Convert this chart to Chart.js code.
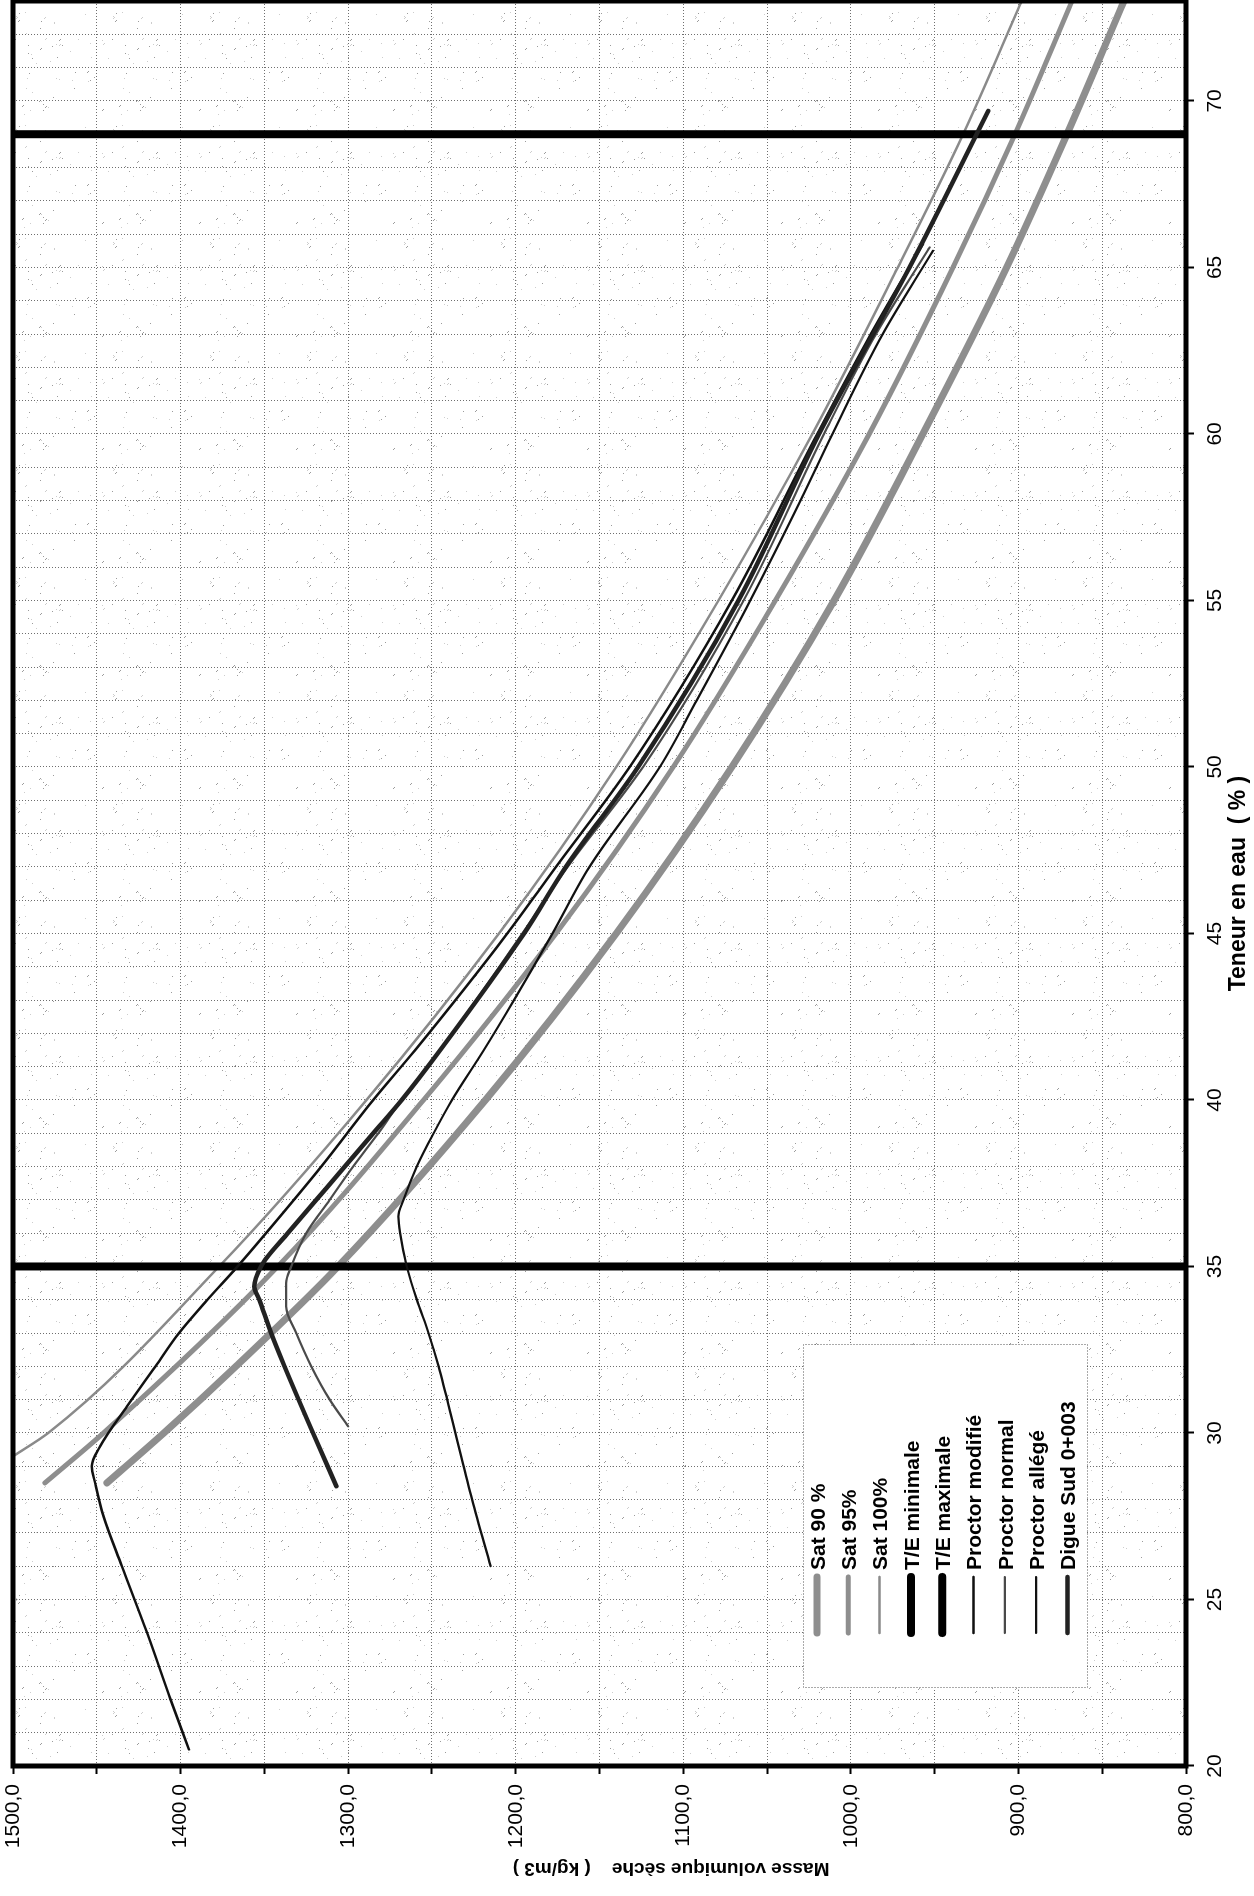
<!DOCTYPE html>
<html>
<head>
<meta charset="utf-8">
<title>Masse volumique sèche / Teneur en eau</title>
<script src="https://cdn.jsdelivr.net/npm/chart.js@4.4.1/dist/chart.umd.min.js"></script>
<style>
  html, body { margin: 0; padding: 0; background: #fff; }
  #page { position: relative; width: 1254px; height: 1896px; overflow: hidden; background: #fff; }
  /* the chart is laid out landscape, then turned a quarter turn to fit the portrait sheet */
  #sheet { position: absolute; left: 0; top: 0; width: 1896px; height: 1254px;
           transform-origin: 0 0; transform: translate(0, 1896px) rotate(-90deg); }
  canvas { display: block; }
</style>
</head>
<body>
<div id="page">
  <div id="sheet"><canvas id="chart" width="1896" height="1254" style="width:1896px;height:1254px"></canvas></div>
</div>
<script>
// ---- series names (legend order) ----
const seriesNames = ['Sat 90 %', 'Sat 95%', 'Sat 100%', 'T/E minimale', 'T/E maximale',
                     'Proctor modifié', 'Proctor normal', 'Proctor allégé', 'Digue Sud 0+003'];

// ---- saturation curves: water content (%) / dry density (kg/m3) ----
const sat90W   = [28.5, 30, 32, 35, 40, 45, 50, 55, 60, 65, 69, 73];
const sat90Rho = [1444, 1410, 1367, 1306, 1218, 1140, 1071, 1010, 957, 907, 871, 837];

const sat95W   = [28.5, 30, 35, 40, 45, 50, 55, 60, 65, 69, 73];
const sat95Rho = [1481, 1446, 1342, 1255, 1176, 1106, 1045, 989, 939, 902, 868];

const sat100W   = [29.3, 30, 35, 40, 45, 50, 55, 60, 65, 69, 73];
const sat100Rho = [1500, 1479, 1377, 1289, 1210, 1140, 1079, 1023, 972, 933, 898];

// ---- water content limits (T/E) ----
const teMinW   = [35, 35];
const teMinRho = [800, 1500];
const teMaxW   = [69, 69];
const teMaxRho = [800, 1500];

// ---- compaction curves ----
const proctorModW   = [20.5, 22, 24, 26, 27.5, 28.5, 29, 29.6, 30.8, 32, 33, 34, 35, 36, 38, 40, 41.5, 45, 47, 50, 55, 60, 63, 65.7];
const proctorModRho = [1395, 1406, 1420, 1435, 1446, 1451, 1453, 1448, 1432, 1415, 1401, 1384, 1366, 1349, 1316, 1285, 1260, 1205, 1176, 1132, 1071, 1020, 988, 957];

const proctorNorW   = [30.2, 31, 32, 33, 33.8, 34.5, 35, 36, 37, 38, 39, 40, 41.5, 45, 47, 50, 55, 60, 63, 65.6];
const proctorNorRho = [1300, 1311, 1322, 1331, 1337, 1337, 1334, 1325, 1311, 1297, 1282, 1268, 1245, 1196, 1169, 1124, 1064, 1016, 985, 953];

const proctorAllW   = [26, 28, 30, 32, 33, 34, 35, 36, 36.5, 37, 38, 39, 40, 41.5, 43, 45, 47, 50, 52, 55, 58, 60, 63, 65.5];
const proctorAllRho = [1215, 1226, 1236, 1246, 1252, 1259, 1265, 1269, 1270, 1267, 1259, 1249, 1238, 1219, 1201, 1178, 1156, 1114, 1092, 1060, 1030, 1011, 981, 951];

const digueW   = [28.4, 30, 32, 33, 34, 34.4, 35, 35.3, 36, 37, 38, 39, 40, 41.5, 45, 47, 50, 55, 60, 65, 69.7];
const digueRho = [1307, 1321, 1338, 1346, 1353, 1356, 1352, 1348, 1336, 1319, 1302, 1285, 1268, 1245, 1195, 1170, 1127, 1067, 1019, 965, 918];

// ---- axis ranges and tick steps ----
const waterMin = 20, waterMax = 73, waterGridStep = 1, waterLabelStep = 5;
const rhoMin = 800, rhoMax = 1500, rhoGridStep = 50, rhoLabelStep = 100;

const FONT = "'Liberation Sans', Arial, Helvetica, sans-serif";

function points(ws, rs) { return ws.map((w, i) => ({ x: w, y: rs[i] })); }

// line styles, one per series
const styles = [
  { color: '#8e8e8e', width: 7 },
  { color: '#8e8e8e', width: 5 },
  { color: '#8a8a8a', width: 2.5 },
  { color: '#000000', width: 8 },
  { color: '#000000', width: 8 },
  { color: '#111111', width: 2.5 },
  { color: '#4a4a4a', width: 2.2 },
  { color: '#111111', width: 2.2 },
  { color: '#222222', width: 4.5 }
];

const seriesData = [
  points(sat90W, sat90Rho),
  points(sat95W, sat95Rho),
  points(sat100W, sat100Rho),
  points(teMinW, teMinRho),
  points(teMaxW, teMaxRho),
  points(proctorModW, proctorModRho),
  points(proctorNorW, proctorNorRho),
  points(proctorAllW, proctorAllRho),
  points(digueW, digueRho)
];

const datasets = seriesNames.map((name, i) => ({
  label: name,
  data: seriesData[i],
  borderColor: styles[i].color,
  backgroundColor: styles[i].color,
  borderWidth: styles[i].width,
  borderCapStyle: (i === 3 || i === 4) ? 'butt' : 'round',
  borderJoinStyle: 'round',
  pointRadius: 0,
  pointHoverRadius: 0,
  fill: false,
  cubicInterpolationMode: 'monotone',
  order: seriesNames.length - i
}));

// light stippled fill for the plotting area
function makeStipple() {
  const c = document.createElement('canvas');
  c.width = 113; c.height = 97;
  const g = c.getContext('2d');
  let s = 90731;
  const next = () => (s = (s * 1103515245 + 12345) & 0x7fffffff) / 0x7fffffff;
  for (let i = 0; i < 58; i++) {
    const x = Math.floor(next() * 113), y = Math.floor(next() * 97);
    g.fillStyle = next() < 0.35 ? '#9c9c9c' : '#cdcdcd';
    g.fillRect(x, y, 1, 1);
    if (next() < 0.3) g.fillRect(x + 1, y + 1, 1, 1);
  }
  return c;
}

const plotBackground = {
  id: 'plotBackground',
  beforeDraw(chart) {
    const { ctx, chartArea: a } = chart;
    ctx.save();
    ctx.fillStyle = '#ffffff';
    ctx.fillRect(a.left, a.top, a.right - a.left, a.bottom - a.top);
    ctx.fillStyle = ctx.createPattern(makeStipple(), 'repeat');
    ctx.fillRect(a.left, a.top, a.right - a.left, a.bottom - a.top);
    ctx.restore();
  }
};

// heavy frame round the plotting area
const plotFrame = {
  id: 'plotFrame',
  afterDatasetsDraw(chart) {
    const { ctx, chartArea: a } = chart;
    ctx.save();
    ctx.strokeStyle = '#000';
    ctx.lineWidth = 5;
    ctx.strokeRect(a.left, a.top, a.right - a.left, a.bottom - a.top);
    ctx.restore();
  }
};

// boxed legend inside the plotting area
const boxedLegend = {
  id: 'boxedLegend',
  afterDraw(chart) {
    const { ctx } = chart;
    const box = { left: 208, top: 803, right: 551, bottom: 1087 };
    const rowTop = 817, rowStep = 31.3;
    ctx.save();
    ctx.fillStyle = '#ffffff';
    ctx.fillRect(box.left, box.top, box.right - box.left, box.bottom - box.top);
    ctx.strokeStyle = '#555';
    ctx.lineWidth = 1;
    ctx.setLineDash([1, 2]);
    ctx.strokeRect(box.left + 0.5, box.top + 0.5, box.right - box.left, box.bottom - box.top);
    ctx.setLineDash([]);
    chart.data.datasets.forEach((ds, i) => {
      const y = rowTop + i * rowStep;
      ctx.strokeStyle = ds.borderColor;
      ctx.lineWidth = ds.borderWidth;
      ctx.lineCap = 'round';
      ctx.beginPath();
      ctx.moveTo(263, y);
      ctx.lineTo(319, y);
      ctx.stroke();
      ctx.fillStyle = '#000';
      ctx.font = 'bold 21px ' + FONT;
      ctx.textAlign = 'left';
      ctx.textBaseline = 'middle';
      ctx.fillText(ds.label, 326, y + 2);
    });
    ctx.restore();
  }
};

// density axis title
const densityTitle = {
  id: 'densityTitle',
  afterDraw(chart) {
    const { ctx } = chart;
    ctx.save();
    ctx.translate(28, 671);
    ctx.rotate(-Math.PI / 2);
    ctx.fillStyle = '#000';
    ctx.font = 'bold 19px ' + FONT;
    ctx.textAlign = 'center';
    ctx.textBaseline = 'middle';
    ctx.fillText('Masse volumique sèche    ( kg/m3 )', 0, 0);
    ctx.restore();
  }
};

new Chart(document.getElementById('chart'), {
  type: 'line',
  data: { datasets },
  plugins: [plotBackground, plotFrame, boxedLegend, densityTitle],
  options: {
    responsive: false,
    animation: false,
    devicePixelRatio: 1,
    layout: { padding: { top: 13, right: 1, left: 0, bottom: 0 } },
    plugins: { legend: { display: false }, tooltip: { enabled: false }, title: { display: false } },
    scales: {
      x: {
        type: 'linear',
        position: 'bottom',
        min: waterMin,
        max: waterMax,
        afterFit: s => { s.height = 68; s.paddingLeft = 0; s.paddingRight = 0; },
        ticks: {
          stepSize: waterGridStep,
          autoSkip: false,
          maxRotation: 0,
          padding: 9,
          color: '#000',
          font: { family: FONT, size: 21 },
          callback: v => (v % waterLabelStep === 0 ? String(v) : '')
        },
        grid: {
          color: '#6e6e6e',
          lineWidth: 1,
          tickLength: 8,
          tickWidth: 2,
          tickColor: c => (c.tick && c.tick.value % waterLabelStep === 0 ? '#000' : 'rgba(0,0,0,0)')
        },
        border: { display: false, dash: [1, 2] },
        title: {
          display: true,
          text: 'Teneur en eau  ( % )',
          color: '#000',
          font: { family: FONT, size: 23, weight: 'bold' },
          padding: { top: 0, bottom: 2 }
        }
      },
      y: {
        type: 'linear',
        position: 'left',
        min: rhoMin,
        max: rhoMax,
        afterFit: s => { s.width = 130; s.paddingTop = 0; s.paddingBottom = 0; },
        ticks: {
          stepSize: rhoGridStep,
          autoSkip: false,
          padding: 10,
          color: '#000',
          font: { family: FONT, size: 21 },
          callback: v => (v % rhoLabelStep === 0 ? v.toFixed(1).replace('.', ',') : '')
        },
        grid: {
          color: '#6e6e6e',
          lineWidth: 1,
          tickLength: 8,
          tickWidth: 2,
          tickColor: '#000'
        },
        border: { display: false, dash: [1, 2] },
        title: { display: false }
      }
    }
  }
});
</script>
</body>
</html>
